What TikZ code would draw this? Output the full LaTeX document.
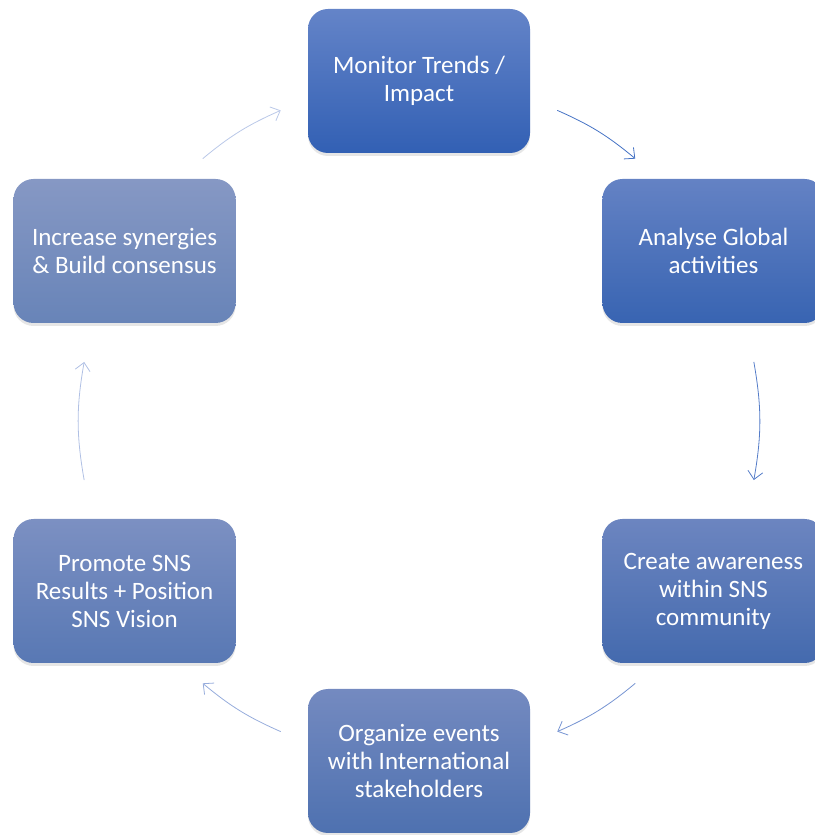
\documentclass[tikz,border=0pt]{standalone}
\usepackage{fontspec}
\setmainfont{Carlito}
\usetikzlibrary{arrows.meta,shadows}
\definecolor{monTop}{RGB}{100,132,200}
\definecolor{monBot}{RGB}{50,96,180}
\definecolor{anaTop}{RGB}{100,130,196}
\definecolor{anaBot}{RGB}{56,100,178}
\definecolor{awaTop}{RGB}{108,133,192}
\definecolor{awaBot}{RGB}{68,106,174}
\definecolor{orgTop}{RGB}{116,138,192}
\definecolor{orgBot}{RGB}{78,113,176}
\definecolor{proTop}{RGB}{124,144,194}
\definecolor{proBot}{RGB}{88,120,180}
\definecolor{synTop}{RGB}{134,152,196}
\definecolor{synBot}{RGB}{104,132,184}
\tikzset{
  stage/.style={rectangle,rounded corners=20pt,minimum width=222pt,minimum height=144pt,
    align=center,text=white,font=\fontsize{25}{28}\selectfont,
    drop shadow={shadow xshift=0pt,shadow yshift=-3pt,opacity=0.2}},
  flow/.style={line width=0.8pt,-{Straight Barb[length=8pt,width=15pt]}}
}
\begin{document}
\begin{tikzpicture}[x=1pt,y=1pt]
\useasboundingbox (0,0) rectangle (814,835);
\begin{scope}[shift={(419,414)}]
  \coordinate (hub) at (0,0);
  % the six stages around the hub
  \node[stage,top color=monTop,bottom color=monBot] (mon) at (90:340) {Monitor Trends /\\Impact};
  \node[stage,top color=anaTop,bottom color=anaBot] (ana) at (30:340) {Analyse Global\\activities};
  \node[stage,top color=awaTop,bottom color=awaBot] (awa) at (-30:340) {Create awareness\\within SNS\\community};
  \node[stage,top color=orgTop,bottom color=orgBot] (org) at (-90:340) {Organize events\\with International\\stakeholders};
  \node[stage,top color=proTop,bottom color=proBot] (pro) at (210:340) {Promote SNS\\Results + Position\\SNS Vision};
  \node[stage,top color=synTop,bottom color=synBot] (syn) at (150:340) {Increase synergies\\\& Build consensus};
  % arrow ends on the circle
  \coordinate (monOut) at (66:340);
  \coordinate (anaIn) at (50.5:340);
  \coordinate (anaOut) at (10:340);
  \coordinate (awaIn) at (-10:340);
  \coordinate (awaOut) at (-50.5:340);
  \coordinate (orgIn) at (-66:340);
  \coordinate (orgOut) at (-114:340);
  \coordinate (proIn) at (-129.5:340);
  \coordinate (proOut) at (190:340);
  \coordinate (synIn) at (170:340);
  \coordinate (synOut) at (129.5:340);
  \coordinate (monIn) at (114:340);
  \draw[flow,color={rgb,255:red,68;green,114;blue,196}] (monOut) to[bend left=8] (anaIn);
  \draw[flow,color={rgb,255:red,84;green,124;blue,200}] (anaOut) to[bend left=10] (awaIn);
  \draw[flow,color={rgb,255:red,118;green,148;blue,210}] (awaOut) to[bend left=8] (orgIn);
  \draw[flow,color={rgb,255:red,150;green,172;blue,220}] (orgOut) to[bend left=8] (proIn);
  \draw[flow,color={rgb,255:red,176;green,192;blue,228}] (proOut) to[bend left=10] (synIn);
  \draw[flow,color={rgb,255:red,186;green,200;blue,232}] (synOut) to[bend left=8] (monIn);
\end{scope}
\end{tikzpicture}
\end{document}
